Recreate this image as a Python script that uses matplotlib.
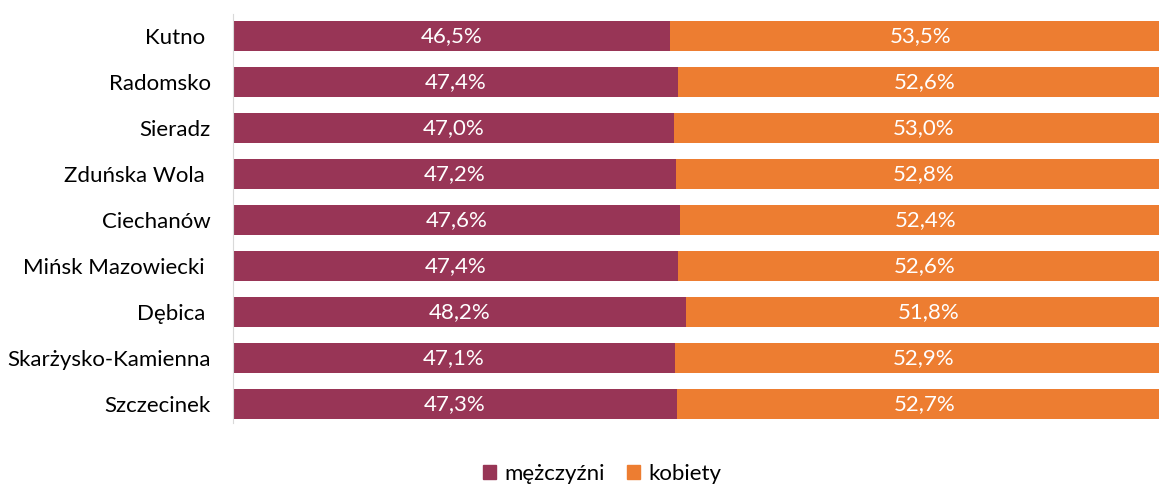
import matplotlib
matplotlib.use("Agg")
import matplotlib.pyplot as plt
from matplotlib.patches import Patch

plt.rcParams['font.family'] = ['Lato', 'DejaVu Sans']

# data
miasta = ["Kutno ", "Radomsko", "Sieradz", "Zduńska Wola ", "Ciechanów",
          "Mińsk Mazowiecki ", "Dębica ", "Skarżysko-Kamienna", "Szczecinek"]
mezczyzni = [46.5, 47.4, 47.0, 47.2, 47.6, 47.4, 48.2, 47.1, 47.3]
kobiety = [53.5, 52.6, 53.0, 52.8, 52.4, 52.6, 51.8, 52.9, 52.7]

c_m = "#983556"
c_k = "#ED7D31"
fs = 16

W, H = 1159, 484
fig = plt.figure(figsize=(W / 100, H / 100), dpi=100)
# right edge lies past the figure, bars are cut like in the original
ax = fig.add_axes([233 / W, 1 - 423 / H, (1172 - 233) / W, (423 - 14) / H])

y = list(range(len(miasta)))
ax.barh(y, mezczyzni, height=0.65, color=c_m)
ax.barh(y, kobiety, left=mezczyzni, height=0.65, color=c_k)

for i in y:
    m, k = mezczyzni[i], kobiety[i]
    ax.text(m / 2, i, f"{m:.1f}%".replace(".", ","), ha="center", va="center",
            color="white", fontsize=fs)
    ax.text(m + k / 2, i, f"{k:.1f}%".replace(".", ","), ha="center", va="center",
            color="white", fontsize=fs)

ax.set_xlim(0, 100)
ax.set_ylim(len(miasta) - 1 + 0.413, -0.478)
ax.set_yticks(y)
ax.set_yticklabels(miasta, fontsize=fs)
ax.tick_params(axis="y", length=0, pad=16)
ax.set_xticks([])
for s in ["top", "right", "bottom"]:
    ax.spines[s].set_visible(False)
ax.spines["left"].set_color("#D9D9D9")

handles = [Patch(color=c_m, label="mężczyźni"), Patch(color=c_k, label="kobiety")]
fig.legend(handles=handles, loc="center", bbox_to_anchor=(602 / W, 1 - 474 / H),
           ncol=2, frameon=False, fontsize=fs, handlelength=0.6, handleheight=0.6,
           handletextpad=0.35, columnspacing=1.0)

fig.savefig("out.png", dpi=100)
